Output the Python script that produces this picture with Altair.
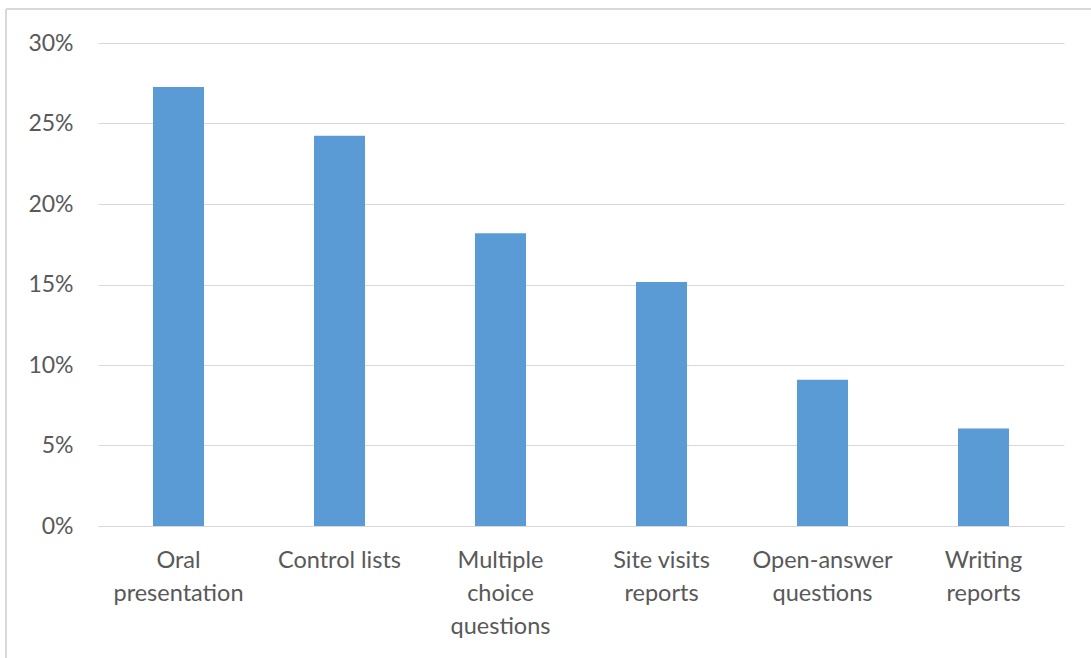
import json
import altair as alt
import pandas as pd

# Share of respondents choosing each assessment method
methods = [
    "Oral presentation",
    "Control lists",
    "Multiple choice questions",
    "Site visits reports",
    "Open-answer questions",
    "Writing reports",
]
shares = [0.2727, 0.2424, 0.1818, 0.1515, 0.0909, 0.0606]
label_lines = [
    ["Oral", "presentation"],
    ["Control lists"],
    ["Multiple", "choice", "questions"],
    ["Site visits", "reports"],
    ["Open-answer", "questions"],
    ["Writing", "reports"],
]

df = pd.DataFrame({"method": methods, "share": shares})
label_map = json.dumps(dict(zip(methods, label_lines)))

FONT = "Lato"
TEXT = "#595959"
GRID = "#d9d9d9"

bars = alt.Chart(df).mark_bar(color="#5b9bd5").encode(
    x=alt.X(
        "method:N",
        sort=methods,
        scale=alt.Scale(paddingInner=0.683, paddingOuter=0.3415),
        axis=alt.Axis(
            title=None,
            labelAngle=0,
            labelExpr=f"{label_map}[datum.value]",
            labelFont=FONT,
            labelFontSize=23.5,
            labelColor=TEXT,
            labelLineHeight=33,
            labelPadding=22,
            labelBaseline="top",
            ticks=False,
            domainColor=GRID,
            domainWidth=1,
            grid=False,
        ),
    ),
    y=alt.Y(
        "share:Q",
        scale=alt.Scale(domain=[0, 0.3], nice=False),
        axis=alt.Axis(
            title=None,
            format=".0%",
            values=[0, 0.05, 0.1, 0.15, 0.2, 0.25, 0.3],
            labelFont=FONT,
            labelFontSize=23,
            labelColor=TEXT,
            labelPadding=25,
            ticks=False,
            domain=False,
            gridColor=GRID,
            gridWidth=1,
        ),
    ),
)

# Thin frame around the chart area
frame_top = alt.Chart(df).mark_rule(color=GRID, strokeWidth=2).encode(
    x=alt.value(-92), x2=alt.value(1000), y=alt.value(-34)
)
frame_left = alt.Chart(df).mark_rule(color=GRID, strokeWidth=2).encode(
    x=alt.value(-92), y=alt.value(-34), y2=alt.value(700)
)

chart = (
    alt.layer(frame_top, frame_left, bars)
    .properties(
        width=966,
        height=483,
        autosize=alt.AutoSizeParams(type="none"),
        padding={"left": 98, "top": 43, "right": 27, "bottom": 132},
        background="white",
    )
    .configure_view(stroke=None)
)

chart.save("out.html", embed_options={"renderer": "svg", "actions": False})
